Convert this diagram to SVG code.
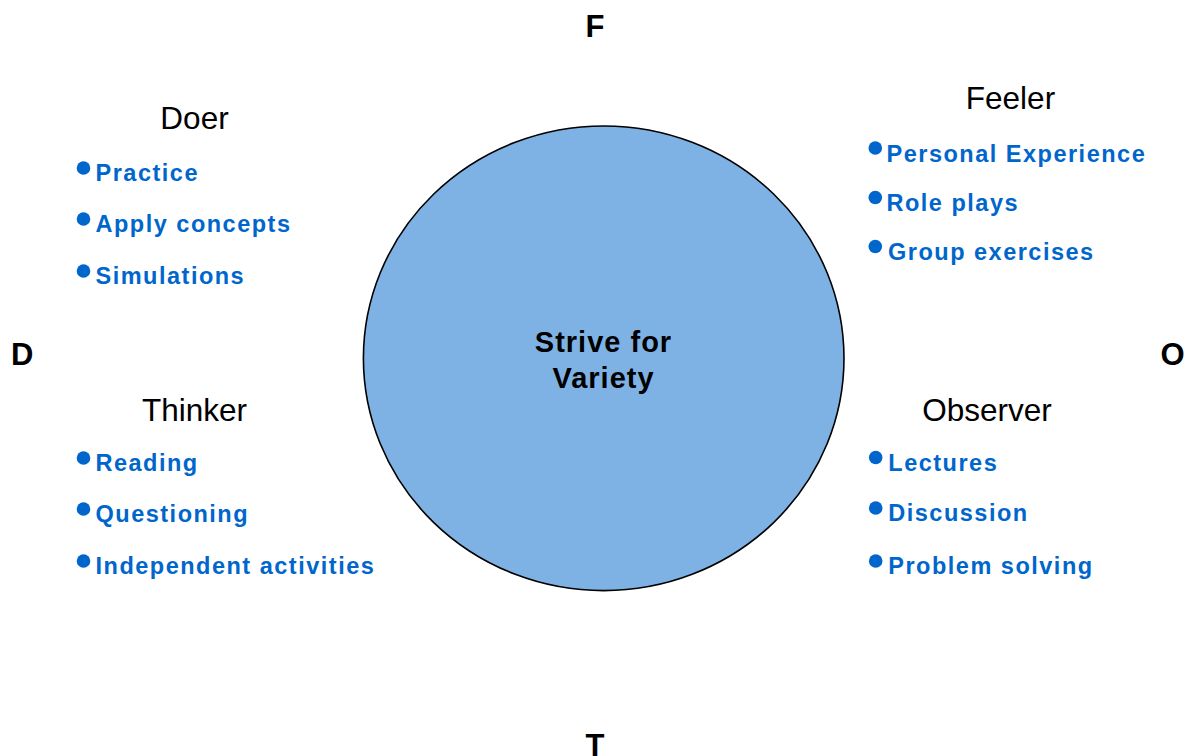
<svg xmlns="http://www.w3.org/2000/svg" width="1188" height="756" viewBox="0 0 1188 756">
<style>
.axis{font-family:"Liberation Sans",Arial,sans-serif;font-weight:bold;font-size:31px;fill:#000}
.head{font-family:"Liberation Sans",Arial,sans-serif;font-size:31.5px;fill:#000;text-anchor:middle}
.item{font-family:"Liberation Sans",Arial,sans-serif;font-weight:bold;font-size:23.5px;letter-spacing:1.5px;fill:#0066cc}
.dot{fill:#0066cc}
.center{font-family:"Liberation Sans",Arial,sans-serif;font-weight:bold;font-size:29px;letter-spacing:1px;fill:#000;text-anchor:middle}
</style>
<rect width="1188" height="756" fill="#fff"/>
<g id="hub">
<ellipse cx="603.7" cy="358.3" rx="240.3" ry="232.3" fill="#7fb2e4" stroke="#000" stroke-width="1.6"/>
<text class="center" x="603.5" y="352">Strive for</text>
<text class="center" x="603.5" y="388">Variety</text>
</g>
<g id="axes">
<text class="axis" x="595" y="36.7" text-anchor="middle">F</text>
<text class="axis" x="11" y="365">D</text>
<text class="axis" x="1172.5" y="365" text-anchor="middle">O</text>
<text class="axis" x="595" y="756" text-anchor="middle">T</text>
</g>
<g id="doer">
<text class="head" x="194.5" y="129">Doer</text>
<circle class="dot" cx="83.5" cy="168" r="6.8"/>
<text class="item" x="95.5" y="181">Practice</text>
<circle class="dot" cx="83.5" cy="219" r="6.8"/>
<text class="item" x="95.5" y="232">Apply concepts</text>
<circle class="dot" cx="83.5" cy="271" r="6.8"/>
<text class="item" x="95.5" y="284">Simulations</text>
</g>
<g id="thinker">
<text class="head" x="194.5" y="421">Thinker</text>
<circle class="dot" cx="83.5" cy="458" r="6.8"/>
<text class="item" x="95.5" y="471">Reading</text>
<circle class="dot" cx="83.5" cy="509" r="6.8"/>
<text class="item" x="95.5" y="522">Questioning</text>
<circle class="dot" cx="83.5" cy="561" r="6.8"/>
<text class="item" x="95.5" y="574">Independent activities</text>
</g>
<g id="feeler">
<text class="head" x="1010.5" y="109">Feeler</text>
<circle class="dot" cx="875.3" cy="148" r="6.8"/>
<text class="item" x="886.5" y="162">Personal Experience</text>
<circle class="dot" cx="875.3" cy="197.5" r="6.8"/>
<text class="item" x="886.5" y="211">Role plays</text>
<circle class="dot" cx="875.3" cy="246.5" r="6.8"/>
<text class="item" x="888" y="260">Group exercises</text>
</g>
<g id="observer">
<text class="head" x="987" y="421">Observer</text>
<circle class="dot" cx="875.7" cy="457.5" r="6.8"/>
<text class="item" x="888.3" y="471">Lectures</text>
<circle class="dot" cx="875.7" cy="508" r="6.8"/>
<text class="item" x="888.3" y="521">Discussion</text>
<circle class="dot" cx="875.7" cy="561" r="6.8"/>
<text class="item" x="888.3" y="574">Problem solving</text>
</g>
<g id="connectors"></g>
</svg>
